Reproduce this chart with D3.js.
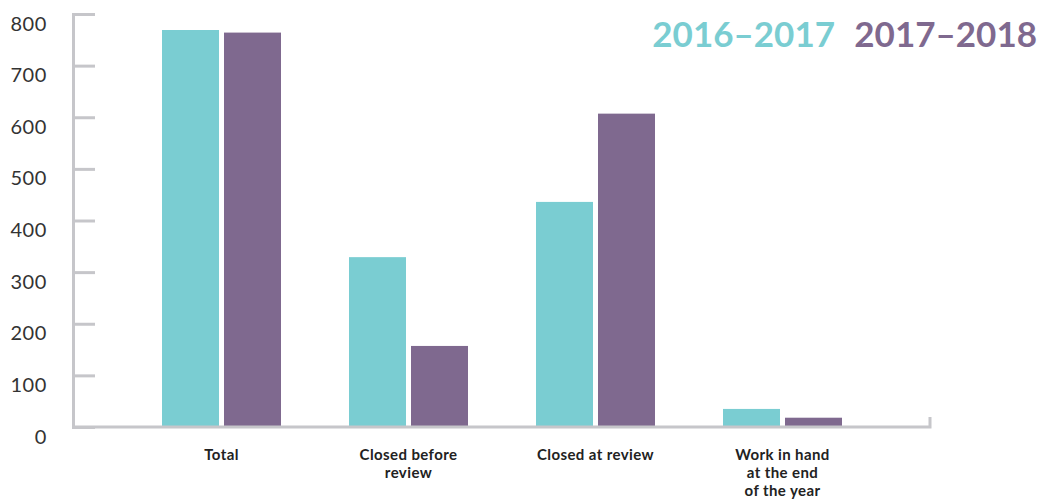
<!DOCTYPE html>
<html>
<head>
<meta charset="utf-8">
<script src="https://cdn.jsdelivr.net/npm/d3@7"></script>
<style>
  body { margin: 0; background: #fff; }
  svg { display: block; }
</style>
</head>
<body>
<svg id="chart"></svg>
<script>
const categories = ["Total", "Closed before review", "Closed at review", "Work in hand at the end of the year"];
const categoryLines = [["Total"], ["Closed before", "review"], ["Closed at review"], ["Work in hand", "at the end", "of the year"]];
const series = ["2016\u20132017", "2017\u20132018"];
const values2016 = [769, 329, 436, 35];
const values2017 = [764, 157, 607, 18];
const yTicks = [0, 100, 200, 300, 400, 500, 600, 700, 800];
const colors = ["#7acdd2", "#7f698f"];

const w = 1051;
const h = 500;
const axisColor = "#c6c6ca";

const svg = d3.select("#chart").attr("width", w).attr("height", h);

const y = d3.scaleLinear().domain([0, 800]).range([427, 14]);
const x0 = d3.scaleBand().domain(categories).range([128, 876]).padding(0);
const x1 = d3.scaleBand().domain(series).range([34, 153]).paddingInner(0.0806).paddingOuter(0);

const rows = categories.map((c, i) => ({ name: c, vals: [values2016[i], values2017[i]] }));

// bars
const groups = svg.append("g")
  .selectAll("g")
  .data(rows)
  .join("g")
  .attr("transform", (d) => `translate(${x0(d.name)},0)`);

groups.selectAll("rect")
  .data((d) => d.vals.map((v, j) => ({ key: series[j], v, j })))
  .join("rect")
  .attr("x", (d) => x1(d.key))
  .attr("y", (d) => y(d.v))
  .attr("width", x1.bandwidth())
  .attr("height", (d) => y(0) - y(d.v))
  .attr("fill", (d) => colors[d.j]);

// baseline with small end tick
const x0Left = 73;
const xRight = 930;
svg.append("path")
  .attr("d", `M${x0Left},${y(0)}H${xRight}V${y(0) - 10}`)
  .attr("fill", "none")
  .attr("stroke", axisColor)
  .attr("stroke-width", 3);

// y axis
const yAxis = d3.axisLeft(y).tickValues(yTicks).tickSize(-22).tickSizeOuter(-22).tickPadding(26);
const gy = svg.append("g")
  .attr("transform", `translate(${x0Left},0)`)
  .call(yAxis);
gy.select(".domain").attr("stroke", axisColor).attr("stroke-width", 3);
gy.selectAll(".tick line").attr("stroke", axisColor).attr("stroke-width", 3);
gy.selectAll(".tick text")
  .attr("dy", "0.8em")
  .attr("fill", "#333")
  .style("font-family", "Lato, sans-serif")
  .style("font-size", "20px")
  .style("letter-spacing", "0.6px");

// x labels
const xl = svg.append("g")
  .selectAll("text")
  .data(rows)
  .join("text")
  .attr("x", (d) => x0(d.name) + x0.bandwidth() / 2)
  .attr("y", 460)
  .attr("text-anchor", "middle")
  .attr("fill", "#222")
  .style("font-family", "Lato, sans-serif")
  .style("font-weight", "700")
  .style("font-size", "15px")
  .style("letter-spacing", "0.4px");
xl.selectAll("tspan")
  .data((d, i) => categoryLines[i])
  .join("tspan")
  .attr("x", function() { return this.parentNode.getAttribute("x"); })
  .attr("dy", (d, i) => (i === 0 ? 0 : 18))
  .text((d) => d);

// legend
const legendRight = [835, 1037];
svg.append("g")
  .selectAll("text")
  .data(series)
  .join("text")
  .attr("x", (d, i) => legendRight[i])
  .attr("y", 47)
  .attr("text-anchor", "end")
  .attr("fill", (d, i) => colors[i])
  .style("font-family", "Lato, sans-serif")
  .style("font-weight", "700")
  .style("font-size", "35px")
  .text((d) => d);
</script>
</body>
</html>
